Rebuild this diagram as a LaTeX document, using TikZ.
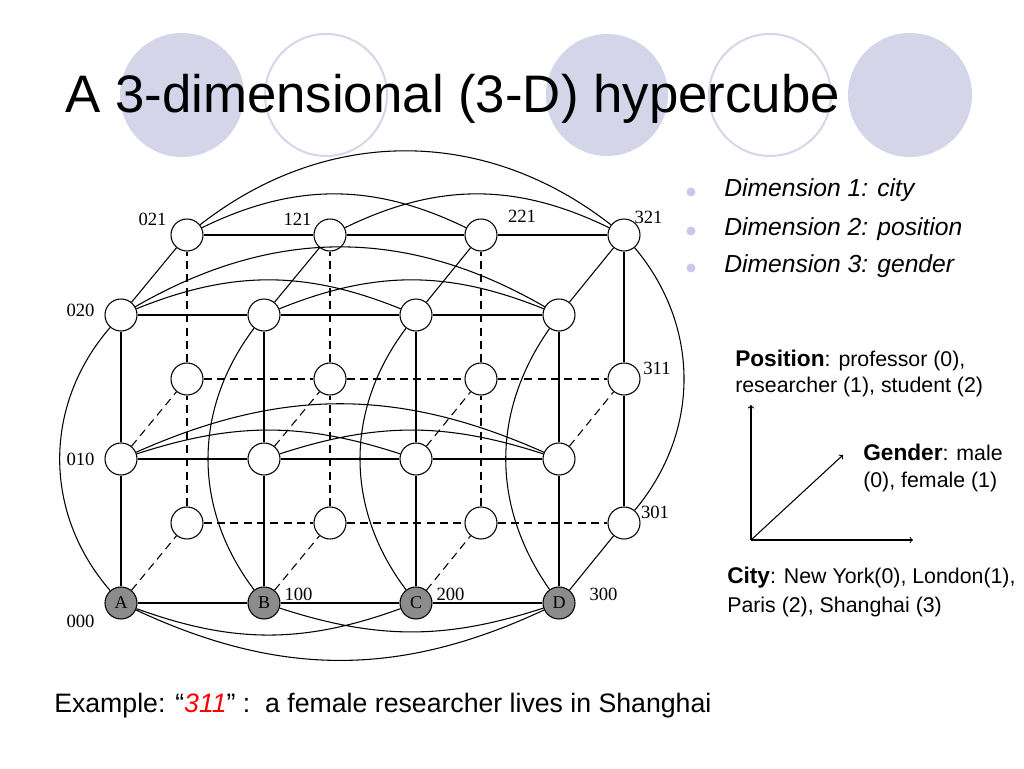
\documentclass[tikz,border=0pt]{standalone}
\usepackage{fontspec}
\setmainfont{Liberation Sans}
\newfontfamily\labelfont{Liberation Serif}
\definecolor{lavender}{RGB}{213,213,234}
\definecolor{ringcol}{RGB}{214,214,234}
\definecolor{bulletcol}{RGB}{200,200,236}
\definecolor{nodegray}{RGB}{140,140,140}
\newcommand\titlesize{\fontsize{39.6}{44}\selectfont}
\newcommand\headsize{\fontsize{17}{20}\selectfont}
\newcommand\textsize{\fontsize{16}{20}\selectfont}

\begin{document}
\begin{tikzpicture}[x=0.75pt,y=0.75pt,
  vtx/.style={circle,draw,fill=white,line width=0.8pt,minimum size=24pt,inner sep=0pt,font=\labelfont\fontsize{13.5}{14}\selectfont},
  keyvtx/.style={vtx,fill=nodegray},
  lbl/.style={font=\labelfont\fontsize{14}{15}\selectfont,inner sep=0pt},
  link/.style={line width=0.8pt},
  hid/.style={link,dash pattern=on 6pt off 4pt},
  txt/.style={anchor=base west,inner sep=0pt,font=\textsize}]
\useasboundingbox (0,0) rectangle (1024,768);
\fill[white] (0,0) rectangle (1024,768);

\fill[lavender] (182,673) circle (62);
\draw[ringcol, line width=1.5pt] (326,673) circle (61);
\fill[lavender] (607,673) circle (61);
\draw[ringcol, line width=1.5pt] (770,673) circle (61);
\fill[lavender] (910,673) circle (62);
\node[anchor=base west,inner sep=0pt,font=\titlesize] (title) at (65,655) {A 3-dimensional (3-D) hypercube};

\node[keyvtx] (n000) at (121,165) {A};
\node[keyvtx] (n100) at (264,165) {B};
\node[keyvtx] (n200) at (416,165) {C};
\node[keyvtx] (n300) at (559,165) {D};
\node[vtx] (n010) at (121,309) {};
\node[vtx] (n110) at (264,309) {};
\node[vtx] (n210) at (416,309) {};
\node[vtx] (n310) at (559,309) {};
\node[vtx] (n020) at (121,453) {};
\node[vtx] (n120) at (264,453) {};
\node[vtx] (n220) at (416,453) {};
\node[vtx] (n320) at (559,453) {};
\node[vtx] (n001) at (187,245) {};
\node[vtx] (n101) at (330,245) {};
\node[vtx] (n201) at (481,245) {};
\node[vtx] (n301) at (624,245) {};
\node[vtx] (n011) at (187,389) {};
\node[vtx] (n111) at (330,389) {};
\node[vtx] (n211) at (481,389) {};
\node[vtx] (n311) at (624,389) {};
\node[vtx] (n021) at (187,533) {};
\node[vtx] (n121) at (330,533) {};
\node[vtx] (n221) at (481,533) {};
\node[vtx] (n321) at (624,533) {};

\node[lbl] (t021) at (152.5,549) {021};
\node[lbl] (t121) at (297.5,549) {121};
\node[lbl] (t221) at (522,552) {221};
\node[lbl] (t321) at (648.5,550.5) {321};
\node[lbl] (t020) at (80.5,458) {020};
\node[lbl] (t311) at (657,400) {311};
\node[lbl] (t010) at (80.5,309) {010};
\node[lbl] (t301) at (655,255.5) {301};
\node[lbl] (t000) at (80.5,147) {000};
\node[lbl] (t100) at (298.5,174) {100};
\node[lbl] (t200) at (450.5,174) {200};
\node[lbl] (t300) at (603.5,174) {300};

\draw[link] (n000) -- (n100) -- (n200) -- (n300);
\draw[link] (n010) -- (n110) -- (n210) -- (n310);
\draw[link] (n020) -- (n120) -- (n220) -- (n320);
\draw[link] (n000) -- (n010) -- (n020);
\draw[link] (n100) -- (n110) -- (n120);
\draw[link] (n200) -- (n210) -- (n220);
\draw[link] (n300) -- (n310) -- (n320);
\draw[link] (n021) -- (n121) -- (n221) -- (n321);
\draw[link] (n301) -- (n311) -- (n321);
\draw[hid] (n001) -- (n101) -- (n201) -- (n301);
\draw[hid] (n011) -- (n111) -- (n211) -- (n311);
\draw[hid] (n001) -- (n011) -- (n021);
\draw[hid] (n101) -- (n111) -- (n121);
\draw[hid] (n201) -- (n211) -- (n221);
\draw[link] (n020) -- (n021) (n120) -- (n121) (n220) -- (n221) (n320) -- (n321) (n300) -- (n301);
\draw[hid] (n000) -- (n001) (n100) -- (n101) (n200) -- (n201) (n010) -- (n011) (n110) -- (n111) (n210) -- (n211) (n310) -- (n311);

\draw[link] (n021) to[bend left=38] (n321) (n021) to[bend left=26] (n221) (n121) to[bend left=26] (n321);
\draw[link] (n020) to[bend left=30] (n320) (n020) to[bend left=22] (n220) (n120) to[bend left=22] (n320);
\draw[link] (n010) to[bend left=24] (n310) (n010) to[bend left=18] (n210) (n110) to[bend left=18] (n310);
\draw[link] (n000) to[bend right=25] (n300) (n000) to[bend right=20] (n200) (n100) to[bend right=18] (n300);
\draw[link] (n000) to[bend left=41] (n020) (n100) to[bend left=37] (n120) (n200) to[bend left=37] (n220) (n300) to[bend left=35] (n320);
\draw[link] (n301) to[bend right=40] (n321);

\fill[bulletcol] (691,576) circle (4.5);
\fill[bulletcol] (691,537) circle (4.5);
\fill[bulletcol] (691,500) circle (4.5);
\node[txt,font=\itshape\fontsize{18.5}{20}\selectfont] (dim1) at (724,571) {Dimension 1: city};
\node[txt,font=\itshape\fontsize{18.5}{20}\selectfont] (dim2) at (724,532) {Dimension 2: position};
\node[txt,font=\itshape\fontsize{18.5}{20}\selectfont] (dim3) at (724,495) {Dimension 3: gender};

\node[txt] (pos1) at (735,401) {{\headsize\bfseries Position}: professor (0),};
\node[txt] (pos2) at (735,375) {researcher (1), student (2)};
\node[txt] (gen1) at (863,307) {{\headsize\bfseries Gender}: male};
\node[txt] (gen2) at (863,280) {(0), female (1)};
\node[txt] (city1) at (727,185) {{\headsize\bfseries City}: New York(0), London(1),};
\node[txt] (city2) at (727,156) {Paris (2), Shanghai (3)};

\coordinate (o) at (751,228);
\coordinate (up) at (751,363);
\coordinate (right) at (913,228);
\coordinate (diag) at (843,313);
\draw[link,->] (o) -- (up);
\draw[link,->] (o) -- (right);
\draw[link,->] (o) -- (diag);

\node[txt,font=\fontsize{20}{24}\selectfont] (example) at (54,56) {Example: “\textcolor{red}{\itshape 311}” :\ \ a female researcher lives in Shanghai};
\end{tikzpicture}
\end{document}
